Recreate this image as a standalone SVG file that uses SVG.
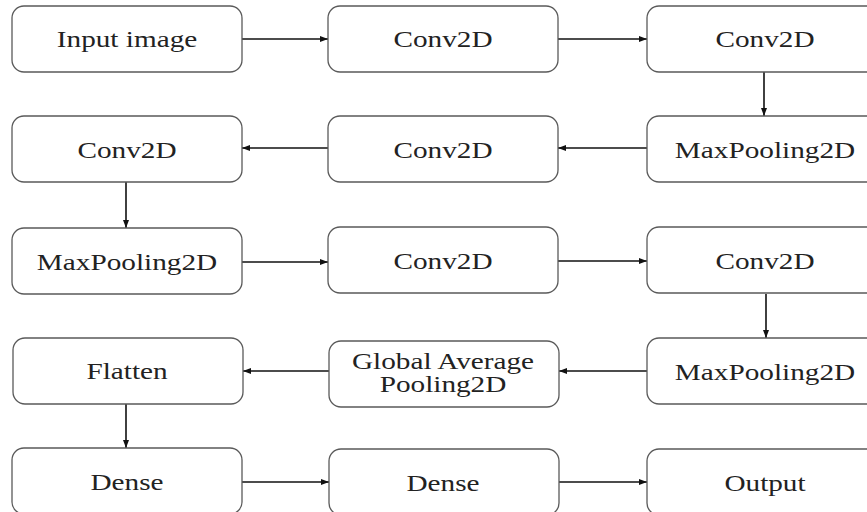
<svg xmlns="http://www.w3.org/2000/svg" width="867" height="512" viewBox="0 0 867 512">
<defs>
<marker id="ah" viewBox="0 0 8 6" refX="8" refY="3" markerWidth="8" markerHeight="6" markerUnits="userSpaceOnUse" orient="auto">
<path d="M0,0 L8,3 L0,6 z" fill="#111"/>
</marker>
<style>
.box{fill:#fff;stroke:#5a5a5a;stroke-width:1.3}
.lbl{font-family:"Liberation Serif","Times New Roman",serif;font-size:22.5px;fill:#222;text-anchor:middle}
.edge{stroke:#111;stroke-width:1.6;fill:none;marker-end:url(#ah)}
</style>
</defs>
<rect width="867" height="512" fill="#fff"/>
<g id="connectors">
<line class="edge" x1="242" y1="39" x2="328" y2="39"/>
<line class="edge" x1="558" y1="39" x2="647" y2="39"/>
<line class="edge" x1="764" y1="72" x2="764" y2="116"/>
<line class="edge" x1="647" y1="148" x2="558" y2="148"/>
<line class="edge" x1="328" y1="148" x2="242" y2="148"/>
<line class="edge" x1="126" y1="182" x2="126" y2="228"/>
<line class="edge" x1="242" y1="262" x2="328" y2="262"/>
<line class="edge" x1="558" y1="261" x2="647" y2="261"/>
<line class="edge" x1="766" y1="294" x2="766" y2="338"/>
<line class="edge" x1="647" y1="371" x2="559" y2="371"/>
<line class="edge" x1="329" y1="371" x2="243" y2="371"/>
<line class="edge" x1="126" y1="404" x2="126" y2="448"/>
<line class="edge" x1="242" y1="482" x2="329" y2="482"/>
<line class="edge" x1="559" y1="482" x2="647" y2="482"/>
</g>
<g id="n1"><rect class="box" x="12" y="6" width="230" height="66" rx="12"/><text class="lbl" transform="translate(127,47) scale(1.3,1)">Input image</text></g>
<g id="n2"><rect class="box" x="328" y="6" width="230" height="66" rx="12"/><text class="lbl" transform="translate(443,47) scale(1.3,1)">Conv2D</text></g>
<g id="n3"><rect class="box" x="647" y="6" width="236" height="66" rx="12"/><text class="lbl" transform="translate(765,47) scale(1.3,1)">Conv2D</text></g>
<g id="n4"><rect class="box" x="647" y="116" width="236" height="66" rx="12"/><text class="lbl" transform="translate(765,158) scale(1.3,1)">MaxPooling2D</text></g>
<g id="n5"><rect class="box" x="328" y="116" width="230" height="66" rx="12"/><text class="lbl" transform="translate(443,158) scale(1.3,1)">Conv2D</text></g>
<g id="n6"><rect class="box" x="12" y="116" width="230" height="66" rx="12"/><text class="lbl" transform="translate(127,158) scale(1.3,1)">Conv2D</text></g>
<g id="n7"><rect class="box" x="12" y="228" width="230" height="66" rx="12"/><text class="lbl" transform="translate(127,270) scale(1.3,1)">MaxPooling2D</text></g>
<g id="n8"><rect class="box" x="328" y="227" width="230" height="66" rx="12"/><text class="lbl" transform="translate(443,269) scale(1.3,1)">Conv2D</text></g>
<g id="n9"><rect class="box" x="647" y="227" width="236" height="66" rx="12"/><text class="lbl" transform="translate(765,269) scale(1.3,1)">Conv2D</text></g>
<g id="n10"><rect class="box" x="647" y="338" width="236" height="66" rx="12"/><text class="lbl" transform="translate(765,380) scale(1.3,1)">MaxPooling2D</text></g>
<g id="n11"><rect class="box" x="329" y="341" width="230" height="66" rx="12"/><text class="lbl" transform="translate(443,369) scale(1.3,1)">Global Average</text><text class="lbl" transform="translate(443,392) scale(1.3,1)">Pooling2D</text></g>
<g id="n12"><rect class="box" x="13" y="338" width="230" height="66" rx="12"/><text class="lbl" transform="translate(127,379) scale(1.3,1)">Flatten</text></g>
<g id="n13"><rect class="box" x="12" y="448" width="230" height="66" rx="12"/><text class="lbl" transform="translate(127,490) scale(1.3,1)">Dense</text></g>
<g id="n14"><rect class="box" x="329" y="449" width="230" height="66" rx="12"/><text class="lbl" transform="translate(443,491) scale(1.3,1)">Dense</text></g>
<g id="n15"><rect class="box" x="647" y="449" width="236" height="66" rx="12"/><text class="lbl" transform="translate(765,491) scale(1.3,1)">Output</text></g>
</svg>
